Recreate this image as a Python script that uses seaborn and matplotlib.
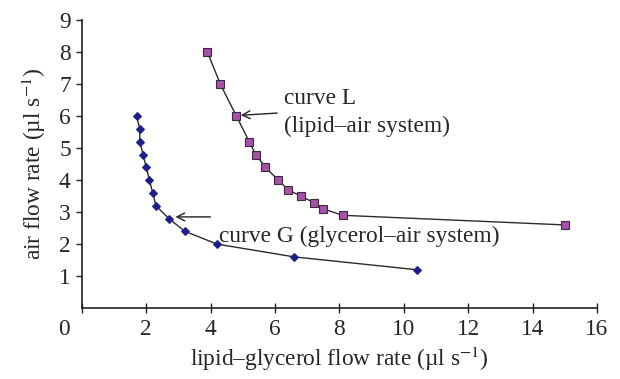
import numpy as np
import matplotlib
matplotlib.use("Agg")
import matplotlib.pyplot as plt
import matplotlib.transforms as mtransforms
import seaborn as sns

# values
lipid_x = [3.9, 4.3, 4.8, 5.2, 5.4, 5.7, 6.1, 6.4, 6.8, 7.2, 7.5, 8.1, 15.0]
lipid_y = [8.0, 7.0, 6.0, 5.2, 4.8, 4.4, 4.0, 3.7, 3.5, 3.3, 3.1, 2.9, 2.6]
glyc_x = [1.7, 1.8, 1.8, 1.9, 2.0, 2.1, 2.2, 2.3, 2.7, 3.2, 4.2, 6.6, 10.4]
glyc_y = [6.0, 5.6, 5.2, 4.8, 4.4, 4.0, 3.6, 3.2, 2.8, 2.4, 2.0, 1.6, 1.2]
x_ticks = [0, 2, 4, 6, 8, 10, 12, 14, 16]
y_ticks = [1, 2, 3, 4, 5, 6, 7, 8, 9]

FS = 16.8

sns.set_style("white")
plt.rcParams['font.family'] = ['Liberation Serif', 'DejaVu Serif']
plt.rcParams['mathtext.fontset'] = 'stix'

fig = plt.figure(figsize=(6.2, 3.79), dpi=100)
ax = fig.add_axes([0.132, 0.187, 0.831, 0.760])

sns.lineplot(x=glyc_x, y=glyc_y, sort=False, estimator=None, ax=ax,
             color="#2b2b2b", linewidth=1.0, marker="D", markersize=4.0,
             markerfacecolor="#1f1f8a", markeredgecolor="#1f1f8a")
sns.lineplot(x=lipid_x, y=lipid_y, sort=False, estimator=None, ax=ax,
             color="#2b2b2b", linewidth=1.0, marker="s", markersize=6.2,
             markerfacecolor="#a552a8", markeredgecolor="#3a2a3c",
             markeredgewidth=0.8)

ax.set_xlim(0, 16)
ax.set_ylim(0, 9)
ax.set_xticks(x_ticks)
ax.set_yticks(y_ticks)
ax.tick_params(axis="both", labelsize=FS, color="#222222", width=1,
               length=4, pad=4, bottom=True, left=True)
ax.tick_params(axis="x", direction="inout", length=7)
ax.tick_params(axis="y", direction="out", length=4)

for side in ["top", "right"]:
    ax.spines[side].set_visible(False)
for side in ["left", "bottom"]:
    ax.spines[side].set_color("#222222")
    ax.spines[side].set_linewidth(1.2)

# the "0" sits a little left of the axis, as in the source
lbl0 = ax.get_xticklabels()[0]
lbl0.set_transform(lbl0.get_transform() +
                   mtransforms.ScaledTranslation(-0.18, 0, fig.dpi_scale_trans))

ax.set_xlabel("lipid–glycerol flow rate (µl s$^{-1}$)", fontsize=FS, labelpad=4)
ax.set_ylabel("air flow rate (µl s$^{-1}$)", fontsize=FS, labelpad=8)

ax.annotate("", xy=(4.85, 6.02), xytext=(6.15, 6.1),
            arrowprops=dict(arrowstyle="->", color="#222222", lw=1.0,
                            mutation_scale=14))
ax.text(6.27, 6.56, "curve L", fontsize=FS, va="center", ha="left")
ax.text(6.27, 5.67, "(lipid–air system)", fontsize=FS, va="center", ha="left")

ax.annotate("", xy=(2.82, 2.85), xytext=(4.08, 2.85),
            arrowprops=dict(arrowstyle="->", color="#222222", lw=1.0,
                            mutation_scale=14))
ax.text(4.25, 2.23, "curve G (glycerol–air system)", fontsize=FS,
        va="center", ha="left")

fig.savefig("out.png", dpi=100)
